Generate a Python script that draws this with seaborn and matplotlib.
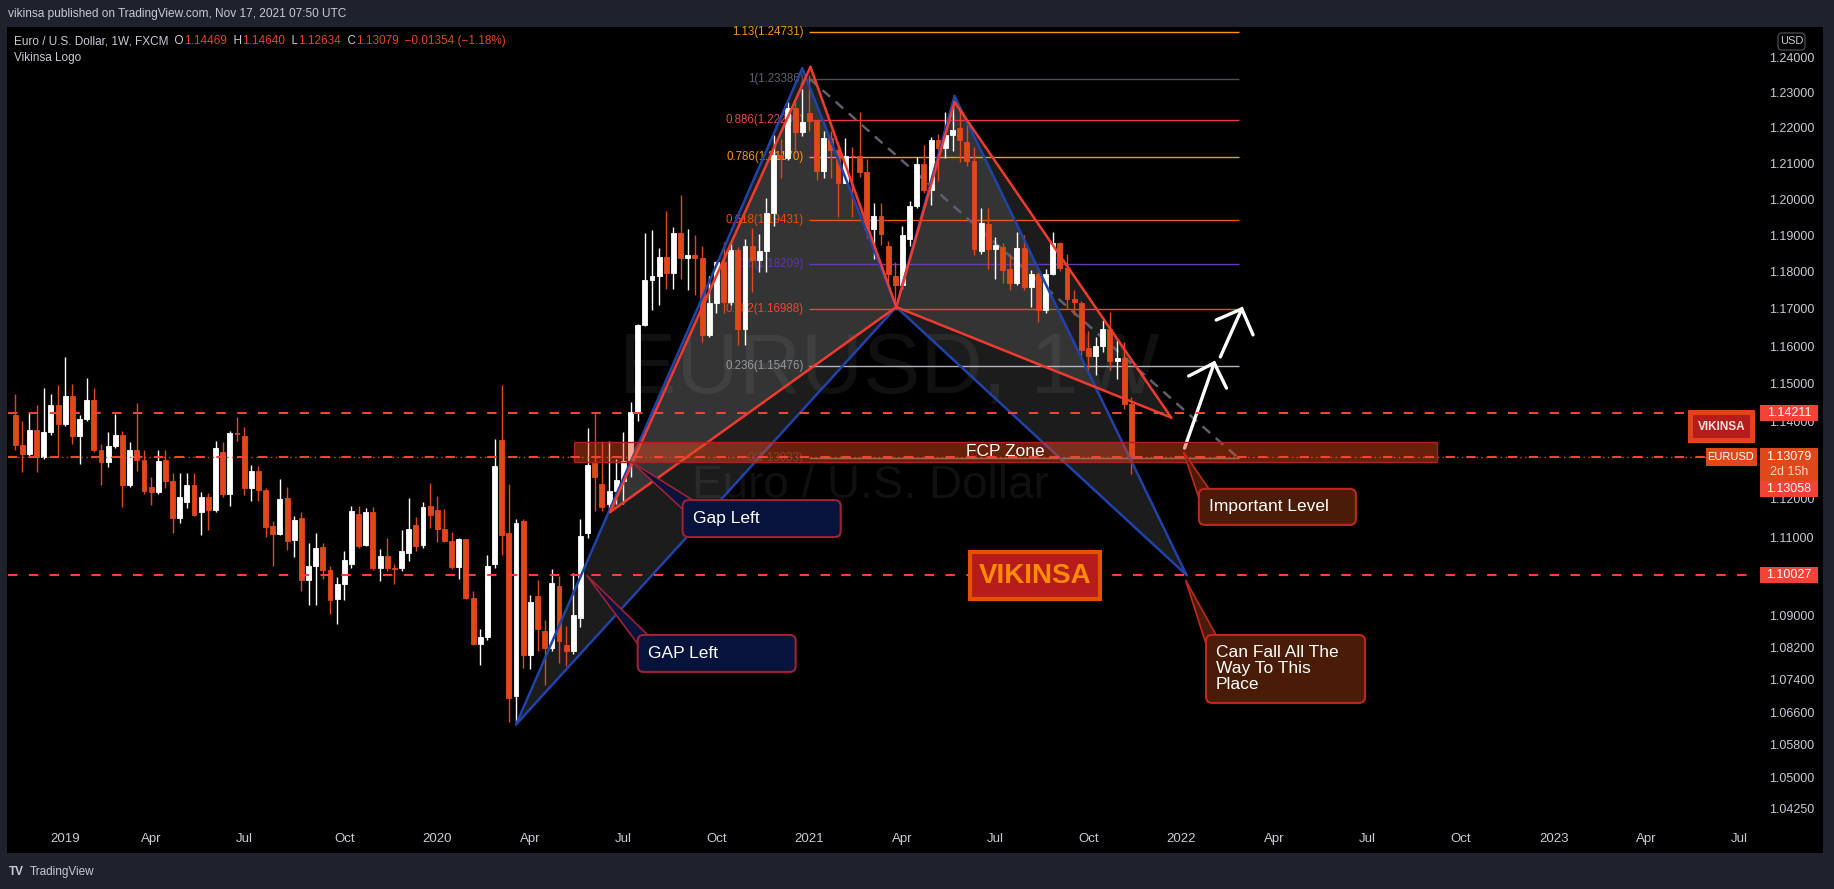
import numpy as np
import pandas as pd
import seaborn as sns
import matplotlib
matplotlib.use("Agg")
import matplotlib.pyplot as plt
import matplotlib.dates as mdates
from matplotlib import font_manager
from matplotlib.patches import Polygon, Rectangle, FancyBboxPatch
from matplotlib.transforms import IdentityTransform, offset_copy
from matplotlib.ticker import NullLocator, NullFormatter

# weekly EUR/USD candles (FXCM), first bar = week of 19 Nov 2018
first_week = "2018-11-19"
opens = [1.1417, 1.1338, 1.1314, 1.1378, 1.1306, 1.1371, 1.1444, 1.1394, 1.1468, 1.1363,
         1.1407, 1.1456, 1.1325, 1.1295, 1.1336, 1.1365, 1.1235, 1.1325, 1.1298, 1.1230,
         1.1216, 1.1300, 1.1245, 1.1150, 1.1190, 1.1235, 1.1165, 1.1204, 1.1170, 1.1320,
         1.1211, 1.1370, 1.1362, 1.1225, 1.1271, 1.1220, 1.1128, 1.1108, 1.1200, 1.1092,
         1.1150, 1.0990, 1.1027, 1.1075, 1.1017, 1.0943, 1.0980, 1.1032, 1.1160, 1.1080,
         1.1164, 1.1022, 1.1051, 1.1020, 1.1022, 1.1060, 1.1130, 1.1080, 1.1180, 1.1170,
         1.1120, 1.1091, 1.1023, 1.1094, 1.0944, 1.0830, 1.0847, 1.1030, 1.1350, 1.1110,
         1.0700, 1.1142, 1.0802, 1.0950, 1.0863, 1.0820, 1.0975, 1.0826, 1.0813, 1.0894,
         1.1110, 1.1290, 1.1236, 1.1185, 1.1218, 1.1245, 1.1299, 1.1425, 1.1656, 1.1778,
         1.1788, 1.1842, 1.1796, 1.1907, 1.1838, 1.1845, 1.1839, 1.1631, 1.1715, 1.1826,
         1.1718, 1.1860, 1.1647, 1.1872, 1.1833, 1.1857, 1.1962, 1.2122, 1.2114, 1.2254,
         1.2186, 1.2240, 1.2219, 1.2078, 1.2170, 1.2136, 1.2046, 1.2121, 1.2120, 1.2075,
         1.1917, 1.1953, 1.1870, 1.1788, 1.1764, 1.1890, 1.1982, 1.2098, 1.2026, 1.2164,
         1.2143, 1.2180, 1.2200, 1.2160, 1.2105, 1.1858, 1.1932, 1.1862, 1.1868, 1.1808,
         1.1770, 1.1866, 1.1760, 1.1795, 1.1697, 1.1795, 1.1880, 1.1812, 1.1728, 1.1715,
         1.1596, 1.1573, 1.1601, 1.1645, 1.1559, 1.1568, 1.14469]
highs = [1.1472, 1.1402, 1.1424, 1.1443, 1.1487, 1.1473, 1.1497, 1.1570, 1.1498, 1.1417,
         1.1514, 1.1488, 1.1342, 1.1372, 1.1420, 1.1375, 1.1345, 1.1448, 1.1325, 1.1255,
         1.1325, 1.1324, 1.1265, 1.1265, 1.1265, 1.1265, 1.1215, 1.1214, 1.1348, 1.1347,
         1.1374, 1.1412, 1.1385, 1.1287, 1.1283, 1.1225, 1.1142, 1.1250, 1.1230, 1.1153,
         1.1165, 1.1085, 1.1110, 1.1085, 1.1025, 1.0999, 1.1063, 1.1180, 1.1179, 1.1175,
         1.1176, 1.1069, 1.1097, 1.1031, 1.1117, 1.1200, 1.1152, 1.1190, 1.1239, 1.1206,
         1.1173, 1.1113, 1.1097, 1.1095, 1.0963, 1.0866, 1.1054, 1.1355, 1.1495, 1.1236,
         1.1147, 1.1147, 1.0953, 1.0990, 1.0890, 1.1019, 1.1000, 1.0875, 1.1009, 1.1147,
         1.1384, 1.1422, 1.1349, 1.1349, 1.1302, 1.1371, 1.1452, 1.1660, 1.1908, 1.1916,
         1.1865, 1.1966, 1.1922, 1.2011, 1.1917, 1.1900, 1.1871, 1.1790, 1.1830, 1.1881,
         1.1880, 1.1869, 1.1891, 1.1920, 1.1905, 1.2003, 1.2178, 1.2167, 1.2272, 1.2273,
         1.2310, 1.2349, 1.2220, 1.2190, 1.2189, 1.2150, 1.2170, 1.2145, 1.2243, 1.2113,
         1.1990, 1.1990, 1.1886, 1.1826, 1.1927, 1.1994, 1.2117, 1.2150, 1.2172, 1.2183,
         1.2245, 1.2266, 1.2254, 1.2218, 1.2145, 1.1975, 1.1975, 1.1895, 1.1880, 1.1850,
         1.1909, 1.1900, 1.1805, 1.1800, 1.1808, 1.1909, 1.1883, 1.1849, 1.1750, 1.1720,
         1.1640, 1.1624, 1.1669, 1.1692, 1.1616, 1.1610, 1.14640]
lows = [1.1325, 1.1267, 1.1309, 1.1269, 1.1301, 1.1365, 1.1309, 1.1389, 1.1340, 1.1289,
        1.1400, 1.1321, 1.1234, 1.1281, 1.1330, 1.1176, 1.1230, 1.1270, 1.1210, 1.1183,
        1.1210, 1.1226, 1.1110, 1.1135, 1.1175, 1.1155, 1.1105, 1.1117, 1.1164, 1.1202,
        1.1180, 1.1348, 1.1207, 1.1193, 1.1193, 1.1101, 1.1027, 1.1105, 1.1066, 1.1050,
        1.0963, 1.0926, 1.0927, 1.0992, 1.0905, 1.0879, 1.0940, 1.1021, 1.1072, 1.1076,
        1.1015, 1.0989, 1.1014, 1.0981, 1.1013, 1.1039, 1.1065, 1.1071, 1.1124, 1.1086,
        1.1087, 1.1019, 1.0992, 1.0943, 1.0828, 1.0778, 1.0840, 1.1020, 1.1055, 1.0636,
        1.0637, 1.0769, 1.0768, 1.0813, 1.0727, 1.0812, 1.0782, 1.0774, 1.0805, 1.0871,
        1.1097, 1.1168, 1.1168, 1.1168, 1.1185, 1.1186, 1.1255, 1.1402, 1.1655, 1.1696,
        1.1711, 1.1753, 1.1753, 1.1781, 1.1752, 1.1737, 1.1612, 1.1625, 1.1688, 1.1688,
        1.1710, 1.1603, 1.1602, 1.1745, 1.1801, 1.1800, 1.1925, 1.2059, 1.2110, 1.2128,
        1.2177, 1.2190, 1.2054, 1.2059, 1.2058, 1.1952, 1.2045, 1.1952, 1.2062, 1.1894,
        1.1835, 1.1874, 1.1762, 1.1704, 1.1755, 1.1870, 1.1975, 1.2017, 1.1985, 1.2051,
        1.2115, 1.2133, 1.2104, 1.2093, 1.1847, 1.1848, 1.1807, 1.1782, 1.1771, 1.1752,
        1.1765, 1.1752, 1.1705, 1.1664, 1.1690, 1.1791, 1.1802, 1.1700, 1.1683, 1.1563,
        1.1529, 1.1523, 1.1585, 1.1535, 1.1513, 1.1433, 1.12634]
closes = [1.1338, 1.1314, 1.1378, 1.1306, 1.1371, 1.1444, 1.1394, 1.1468, 1.1363, 1.1407,
          1.1456, 1.1325, 1.1295, 1.1336, 1.1365, 1.1235, 1.1325, 1.1298, 1.1218, 1.1216,
          1.1296, 1.1245, 1.1150, 1.1202, 1.1235, 1.1157, 1.1204, 1.1170, 1.1330, 1.1211,
          1.1370, 1.1368, 1.1225, 1.1271, 1.1220, 1.1126, 1.1108, 1.1198, 1.1090, 1.1143,
          1.0990, 1.1027, 1.1073, 1.1017, 1.0940, 1.0980, 1.1040, 1.1167, 1.1078, 1.1164,
          1.1020, 1.1051, 1.1022, 1.1018, 1.1063, 1.1121, 1.1076, 1.1177, 1.1157, 1.1120,
          1.1091, 1.1023, 1.1094, 1.0944, 1.0830, 1.0847, 1.1026, 1.1283, 1.1106, 1.0696,
          1.1135, 1.0802, 1.0935, 1.0868, 1.0820, 1.0982, 1.0838, 1.0813, 1.0902, 1.1102,
          1.1285, 1.1255, 1.1177, 1.1218, 1.1246, 1.1297, 1.1425, 1.1656, 1.1778, 1.1788,
          1.1842, 1.1796, 1.1907, 1.1838, 1.1845, 1.1839, 1.1631, 1.1715, 1.1826, 1.1718,
          1.1860, 1.1647, 1.1872, 1.1833, 1.1857, 1.1962, 1.2122, 1.2114, 1.2254, 1.2186,
          1.2216, 1.2219, 1.2078, 1.2170, 1.2136, 1.2046, 1.2121, 1.2120, 1.2075, 1.1917,
          1.1953, 1.1905, 1.1795, 1.1764, 1.1901, 1.1982, 1.2098, 1.2026, 1.2164, 1.2143,
          1.2180, 1.2192, 1.2164, 1.2105, 1.1864, 1.1935, 1.1862, 1.1875, 1.1806, 1.1770,
          1.1866, 1.1760, 1.1795, 1.1697, 1.1795, 1.1880, 1.1812, 1.1728, 1.1718, 1.1590,
          1.1573, 1.1601, 1.1645, 1.1559, 1.1568, 1.1445, 1.13079]

# axes
view_start, view_end = "2018-11-12", "2023-07-20"
price_low, price_high = 1.03863, 1.24863
price_ticks = [1.24, 1.23, 1.22, 1.21, 1.20, 1.19, 1.18, 1.17, 1.16, 1.15, 1.14,
               1.12, 1.11, 1.09, 1.082, 1.074, 1.066, 1.058, 1.05, 1.0425]
time_tick_dates = ["2019-01-07", "2019-04-01", "2019-07-01", "2019-10-07", "2020-01-06",
                   "2020-04-06", "2020-07-06", "2020-10-05", "2021-01-04", "2021-04-05",
                   "2021-07-05", "2021-10-04", "2022-01-03", "2022-04-04", "2022-07-04",
                   "2022-10-03", "2023-01-02", "2023-04-03", "2023-07-03"]
time_tick_labels = ["2019", "Apr", "Jul", "Oct", "2020", "Apr", "Jul", "Oct", "2021", "Apr",
                    "Jul", "Oct", "2022", "Apr", "Jul", "Oct", "2023", "Apr", "Jul"]

# fibonacci retracement
fib_ratios = ["1.13", "1", "0.886", "0.786", "0.618", "0.5", "0.382", "0.236", "0"]
fib_prices = [1.24731, 1.23386, 1.22206, 1.21170, 1.19431, 1.18209, 1.16988, 1.15476, 1.13033]
fib_start, fib_end = "2021-01-04", "2022-02-28"

# harmonic patterns X, A, B, C, D
blue_dates = ["2020-03-23", "2020-12-28", "2021-03-30", "2021-05-26", "2022-01-08"]
blue_prices = [1.0630, 1.2368, 1.1705, 1.2289, 1.10027]
red_dates = ["2020-06-23", "2021-01-05", "2021-03-30", "2021-05-26", "2021-12-24"]
red_prices = [1.1164, 1.2372, 1.1705, 1.2272, 1.1410]

# horizontal levels
dashed_levels = [1.14211, 1.13058, 1.10027]
last_price = 1.13079

# FCP zone
fcp_dates = ["2020-05-19", "2022-09-10"]
fcp_prices = [1.1294, 1.1346]

# hand drawn arrows: tail, tip, wing, wing
arrow1_dates = ["2022-01-06", "2022-02-04", "2022-01-10", "2022-02-16"]
arrow1_prices = [1.1330, 1.1555, 1.1520, 1.1488]
arrow2_dates = ["2022-02-10", "2022-03-03", "2022-02-06", "2022-03-14"]
arrow2_prices = [1.1571, 1.1700, 1.1670, 1.1630]

# callouts
callout_texts = ["Gap Left", "GAP Left", "Important Level", "Can Fall All The\nWay To This\nPlace"]
callout_tip_dates = ["2020-07-14", "2020-05-31", "2022-01-05", "2022-01-07"]
callout_tip_prices = [1.1294, 1.10027, 1.1320, 1.0990]
callout_box_dates = ["2020-09-02", "2020-07-20", "2022-01-20", "2022-01-27"]
callout_box_prices = [1.1195, 1.0852, 1.1224, 1.0852]

# ---------------------------------------------------------------- style
W, H = 1834, 889
BG = "#1e222d"
DOWN = "#e0481c"
UP = "#ffffff"
TXT = "#c8cbd3"
BLUE = "#1f43a8"
RED = "#f23b2f"
fib_line_colors = ["#ff9800", "#4a4d57", "#f23645", "#ff9800", "#f4511e", "#673ab7",
                   "#f44336", "#b2b5be", "#787b86"]
fib_text_colors = ["#e89a12", "#5d606b", "#e0484e", "#ff9800", "#e65100", "#5e35b1",
                   "#f44336", "#9598a1", "#3a3c44"]
callout_sizes = [(158, 37), (158, 37), (157, 36), (159, 68)]
callout_fill = ["#07133a", "#07133a", "#4a1b06", "#4a1b06"]
callout_edge = ["#9e2236", "#9e2236", "#c0271d", "#c0271d"]

sns.set_theme(style="dark", rc={"axes.facecolor": "black", "figure.facecolor": BG})
fonts = {f.name for f in font_manager.fontManager.ttflist}
UI = "Liberation Sans" if "Liberation Sans" in fonts else "DejaVu Sans"
NARROW = "Liberation Sans Narrow" if "Liberation Sans Narrow" in fonts else None
plt.rcParams["font.family"] = [UI, "DejaVu Sans"]
if NARROW:
    vik_font, vik_size = NARROW, 24
    wm_font, wm_size, wm2_size = NARROW, 78, 40
else:
    vik_font, vik_size = UI, 20
    wm_font, wm_size, wm2_size = UI, 62, 33

ID = IdentityTransform()
num = lambda d: mdates.date2num(pd.Timestamp(d))

fig = plt.figure(figsize=(W / 100, H / 100), dpi=100, facecolor=BG)
fig.add_artist(Rectangle((7, H - 853), 1816, 826, transform=ID, facecolor="black",
                         edgecolor="none", zorder=-5))
ax = fig.add_axes([8 / W, (H - 825) / H, 1749 / W, 798 / H])
ax.set_facecolor("black")
for s in ax.spines.values():
    s.set_visible(False)

ax.set_yscale("log")
ax.set_xlim(num(view_start), num(view_end))
ax.set_ylim(price_low, price_high)

def px(d, p):
    return ax.transData.transform((num(d), p))

# watermark
ax.text(889, H - 371, "EURUSD, 1W", transform=ID, ha="center", va="center",
        fontsize=wm_size, family=wm_font, color="white", alpha=0.065, zorder=0.5)
ax.text(870, H - 486, "Euro / U.S. Dollar", transform=ID, ha="center", va="center",
        fontsize=wm2_size, family=wm_font, color="white", alpha=0.065, zorder=0.5)

# pattern fills
for dates, prices in ((blue_dates, blue_prices), (red_dates, red_prices)):
    xs = [num(d) for d in dates]
    for a, b, c in ((0, 1, 2), (2, 3, 4)):
        ax.add_patch(Polygon([(xs[a], prices[a]), (xs[b], prices[b]), (xs[c], prices[c])],
                             closed=True, facecolor="#b4b4b4", alpha=0.16, lw=0, zorder=1))

# fib levels (under the candles)
fx0, fx1 = num(fib_start), num(fib_end)
ax.hlines(fib_prices, fx0, fx1, colors=fib_line_colors, lw=1, zorder=1.5)
lab_tr = offset_copy(ax.transData, fig=fig, x=-6, y=0, units="dots")
for r, p, col in zip(fib_ratios, fib_prices, fib_text_colors):
    ax.text(fx0, p, f"{r}({p:.5f})", transform=lab_tr, ha="right", va="center",
            fontsize=8.3, color=col, zorder=1.5)
ax.plot([fx0, fx1], [fib_prices[1], fib_prices[-1]], color="#5d606b", lw=1.8,
        ls=(0, (4, 3)), zorder=1.6)

# candles
x = mdates.date2num(pd.date_range(first_week, periods=len(opens), freq="W-MON"))
o, h, l, c = (np.array(v) for v in (opens, highs, lows, closes))
cols = np.where(c >= o, UP, DOWN)
ax.vlines(x, l, h, colors=cols, lw=1, zorder=2)
ax.bar(x, np.abs(c - o), bottom=np.minimum(o, c), width=4.8, color=cols,
       edgecolor=cols, linewidth=0.6, zorder=2.1)

# pattern lines
for dates, prices, col, lw, z in ((blue_dates, blue_prices, BLUE, 1.8, 3),
                                  (red_dates, red_prices, RED, 1.8, 3.2)):
    xs = [num(d) for d in dates]
    for a, b in ((0, 1), (1, 2), (2, 3), (3, 4), (0, 2), (2, 4)):
        ax.plot([xs[a], xs[b]], [prices[a], prices[b]], color=col, lw=lw, zorder=z,
                solid_capstyle="round")

# arrows
for dates, prices in ((arrow1_dates, arrow1_prices), (arrow2_dates, arrow2_prices)):
    xs = [num(d) for d in dates]
    ax.plot(xs[:2], prices[:2], color="white", lw=2.4, zorder=3.5, solid_capstyle="round")
    ax.plot([xs[2], xs[1], xs[3]], [prices[2], prices[1], prices[3]], color="white",
            lw=2.4, zorder=3.5, solid_capstyle="round", solid_joinstyle="miter")

# FCP zone
zx0, zx1 = num(fcp_dates[0]), num(fcp_dates[1])
ax.add_patch(Rectangle((zx0, fcp_prices[0]), zx1 - zx0, fcp_prices[1] - fcp_prices[0],
                       facecolor=(0.90, 0.29, 0.10, 0.45), edgecolor="#b71c1c", lw=1, zorder=4))
ax.text((zx0 + zx1) / 2, np.sqrt(fcp_prices[0] * fcp_prices[1]), "FCP Zone", ha="center",
        va="center", color="white", fontsize=12.5, zorder=5)

# horizontal lines
for lev in dashed_levels:
    ax.axhline(lev, color="#f44336", lw=1.5, ls=(0, (4.5, 5.5)), zorder=4.5)
ax.axhline(last_price, color=DOWN, lw=1, ls=(0, (1, 2.5)), zorder=4.4)

# axes ticks
ax.yaxis.tick_right()
ax.set_yticks(price_ticks)
ax.set_yticklabels([f"{p:.5f}" for p in price_ticks])
ax.yaxis.set_minor_locator(NullLocator())
ax.yaxis.set_minor_formatter(NullFormatter())
ax.set_xticks([num(d) for d in time_tick_dates])
ax.set_xticklabels(time_tick_labels)
ax.tick_params(axis="y", which="both", length=0, pad=9, labelsize=9, labelcolor=TXT)
ax.tick_params(axis="x", which="both", length=0, pad=5.5, labelsize=9.5, labelcolor=TXT)
ax.grid(False)

# VIKINSA box in the chart
vx, vy = px("2021-06-10", 1.1062)
fig.add_artist(Rectangle((vx, vy - 47), 130, 47, transform=ID, facecolor="#b71c1c",
                         edgecolor="#e65100", lw=3, zorder=20))
fig.text(vx + 65, vy - 24, "VIKINSA", transform=ID, ha="center", va="center",
         color="#ff8c00", fontsize=vik_size, family=vik_font, weight="bold", zorder=21)

# callouts
for txt, td, tp, bd, bp, (bw, bh), fc, ec in zip(callout_texts, callout_tip_dates,
                                                  callout_tip_prices, callout_box_dates,
                                                  callout_box_prices, callout_sizes,
                                                  callout_fill, callout_edge):
    tx, ty = px(td, tp)
    lx, top = px(bd, bp)
    fig.add_artist(Polygon([(tx, ty), (lx + 10, top), (lx, top - 9)], closed=True,
                           transform=ID, facecolor=fc, edgecolor=ec, lw=1.2, zorder=20))
    fig.add_artist(FancyBboxPatch((lx, top - bh), bw, bh,
                                  boxstyle="round,pad=0,rounding_size=6", transform=ID,
                                  facecolor=fc, edgecolor=ec, lw=1.5, zorder=21))
    fig.text(lx + 10, top - bh / 2, txt, transform=ID, ha="left", va="center",
             color="white", fontsize=12.5, linespacing=1.08, zorder=22)

# price scale tags
def tag(y0, hgt, fill, x0=1760, wid=58):
    fig.add_artist(Rectangle((x0, y0), wid, hgt, transform=ID, facecolor=fill,
                             edgecolor="none", zorder=30))

_, y1 = px(view_start, 1.14211)
tag(y1 - 8, 16, "#f44336")
fig.text(1789, y1, "1.14211", transform=ID, ha="center", va="center", color="white",
         fontsize=9, zorder=31)
_, yl = px(view_start, last_price)
tag(yl - 24, 33, DOWN)
fig.text(1789, yl, f"{last_price:.5f}", transform=ID, ha="center", va="center",
         color="white", fontsize=9, zorder=31)
fig.text(1789, yl - 15, "2d 15h", transform=ID, ha="center", va="center",
         color="#ffd3c4", fontsize=9, zorder=31)
tag(yl - 40, 16, "#f44336")
fig.text(1789, yl - 32, "1.13058", transform=ID, ha="center", va="center", color="white",
         fontsize=9, zorder=31)
_, y3 = px(view_start, 1.10027)
tag(y3 - 8, 16, "#f44336")
fig.text(1789, y3, "1.10027", transform=ID, ha="center", va="center", color="white",
         fontsize=9, zorder=31)

# EURUSD label and VIKINSA label beside the scale
tag(yl - 9, 18, DOWN, x0=1706, wid=51)
fig.text(1731, yl, "EURUSD", transform=ID, ha="center", va="center", color="white",
         fontsize=8, zorder=31)
tag(y1 - 30, 33, "#e0441a", x0=1688, wid=67)
tag(y1 - 25, 23, "#b71c1c", x0=1693, wid=57)
fig.text(1721.5, y1 - 13.5, "VIKINSA", transform=ID, ha="center", va="center",
         color="#ffe3de", fontsize=8.5, weight="bold", zorder=31)

# USD badge
fig.add_artist(FancyBboxPatch((1778, H - 50), 27, 17, boxstyle="round,pad=0,rounding_size=4",
                              transform=ID, facecolor="black", edgecolor="#434651", lw=1,
                              zorder=30))
fig.text(1791.5, H - 41.5, "USD", transform=ID, ha="center", va="center", color=TXT,
         fontsize=8, zorder=31)

# header
fig.text(8, H - 14, "vikinsa published on TradingView.com, Nov 17, 2021 07:50 UTC",
         transform=ID, ha="left", va="center", color=TXT, fontsize=8.6)
renderer = fig.canvas.get_renderer()
legend_parts = [("Euro / U.S. Dollar, 1W, FXCM", TXT), ("  O", TXT), ("1.14469", DOWN),
                ("  H", TXT), ("1.14640", DOWN), ("  L", TXT), ("1.12634", DOWN),
                ("  C", TXT), ("1.13079", DOWN), ("  \u22120.01354 (\u22121.18%)", DOWN)]
xcur = 14
for s, col in legend_parts:
    t = fig.text(xcur, H - 41, s, transform=ID, ha="left", va="center", color=col,
                 fontsize=8.5, zorder=31)
    xcur = t.get_window_extent(renderer).x1
fig.text(14, H - 58, "Vikinsa Logo", transform=ID, ha="left", va="center", color=TXT,
         fontsize=8.5, zorder=31)

# footer
fig.text(9, H - 872, "TV", transform=ID, ha="left", va="center", color=TXT,
         fontsize=8.5, weight="bold")
fig.text(30, H - 872, "TradingView", transform=ID, ha="left", va="center", color=TXT,
         fontsize=8.5)

fig.savefig("out.png", dpi=100, facecolor=BG)
